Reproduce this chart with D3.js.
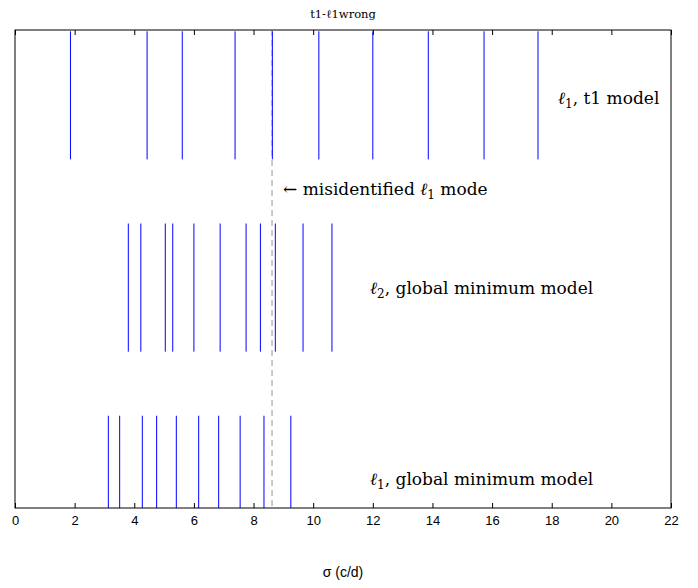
<!DOCTYPE html>
<html>
<head>
<meta charset="utf-8">
<script src="https://cdn.jsdelivr.net/npm/d3@7"></script>
<style>
  body { margin: 0; background: #fff; }
  svg { display: block; }
</style>
</head>
<body>
<svg width="698" height="588"></svg>
<script>
// mode frequencies (c/d) for each model
var t1_l1 = [1.86, 4.43, 5.61, 7.38, 8.63, 10.19, 12.0, 13.86, 15.73, 17.54];
var gm_l2 = [3.80, 4.22, 5.04, 5.29, 6.00, 6.88, 7.75, 8.23, 8.73, 9.66, 10.63];
var gm_l1 = [3.13, 3.51, 4.27, 4.75, 5.41, 6.16, 6.83, 7.55, 8.35, 9.25];
var misidentified = 8.62;

// vertical extent of each group of lines (in plot units)
var bands = [[2.72, 3.72], [1.22, 2.22], [-0.28, 0.72]];
var x_ticks = d3.range(0, 23, 2);

var svg = d3.select("svg"),
    margin = {left: 15, right: 27, top: 30, bottom: 80},
    width = +svg.attr("width") - margin.left - margin.right,
    height = +svg.attr("height") - margin.top - margin.bottom;

var x = d3.scaleLinear().domain([0, 22]).range([0, width]);
var y = d3.scaleLinear().domain([0, 3.73]).range([height, 0]);

var g = svg.append("g")
    .attr("transform", "translate(" + margin.left + "," + margin.top + ")");

g.append("clipPath").attr("id", "clip")
  .append("rect").attr("width", width).attr("height", height);

var plot = g.append("g").attr("clip-path", "url(#clip)");

// dashed marker for the misidentified mode
plot.append("line")
    .attr("x1", x(misidentified)).attr("x2", x(misidentified))
    .attr("y1", 0).attr("y2", height)
    .attr("stroke", "#a6a6a6")
    .attr("stroke-width", 1.2)
    .attr("stroke-dasharray", "6,4");

var groups = [t1_l1, gm_l2, gm_l1];
groups.forEach(function (vals, i) {
    plot.append("g").selectAll("line")
        .data(vals)
        .enter()
        .append("line")
        .attr("x1", function (d) { return x(d); })
        .attr("x2", function (d) { return x(d); })
        .attr("y1", y(bands[i][1]))
        .attr("y2", y(bands[i][0]))
        .attr("stroke", "#0000ff")
        .attr("stroke-width", 1);
});

// axes: ticks pointing inward, mirrored on top
var x_axis = d3.axisBottom(x).tickValues(x_ticks).tickSizeInner(-5).tickSizeOuter(0).tickPadding(8);
var xa = g.append("g")
    .attr("transform", "translate(0," + height + ")")
    .call(x_axis);
xa.select(".domain").remove();
xa.selectAll("text")
    .style("font-family", "'Liberation Sans', Arial, sans-serif")
    .style("font-size", "13px")
    .attr("fill", "#000");

var xt = g.append("g")
    .call(d3.axisTop(x).tickValues(x_ticks).tickSizeInner(-5).tickSizeOuter(0).tickFormat(""));
xt.select(".domain").remove();

g.append("rect")
    .attr("width", width).attr("height", height)
    .attr("fill", "none")
    .attr("stroke", "#000")
    .attr("stroke-width", 1);

// labels
var serif = "'DejaVu Serif', serif";

function ell(text, sub, rest, tx, ty) {
    var t = svg.append("text")
        .attr("x", tx).attr("y", ty)
        .style("font-family", serif)
        .style("font-size", "17px")
        .attr("fill", "#000");
    if (text) t.append("tspan").text(text);
    t.append("tspan").style("font-style", "italic").text("ℓ");
    t.append("tspan").style("font-size", "12px").attr("dy", 4).text(sub);
    t.append("tspan").attr("dy", -4).text(rest);
}

ell("", "1", ", t1 model", 558, 104);
ell("← misidentified ", "1", " mode", 283, 195);
ell("", "2", ", global minimum model", 370, 294);
ell("", "1", ", global minimum model", 370, 485);

svg.append("text")
    .attr("x", margin.left + width / 2).attr("y", 18)
    .attr("text-anchor", "middle")
    .style("font-family", serif)
    .style("font-size", "11.5px")
    .text("t1-ℓ1wrong");

svg.append("text")
    .attr("x", margin.left + width / 2).attr("y", 577)
    .attr("text-anchor", "middle")
    .style("font-family", "'Liberation Sans', Arial, sans-serif")
    .style("font-size", "14px")
    .text("σ (c/d)");
</script>
</body>
</html>
